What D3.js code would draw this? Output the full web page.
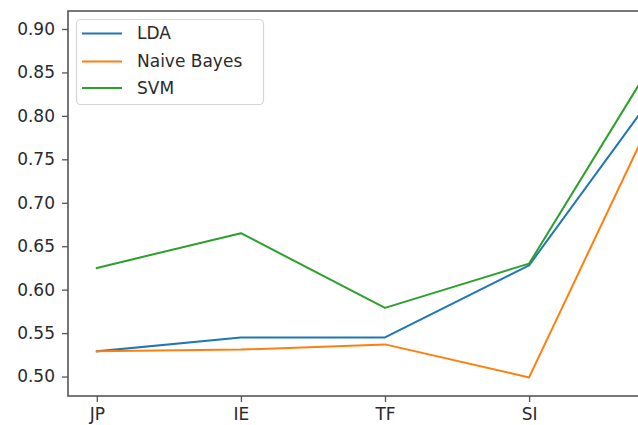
<!DOCTYPE html>
<html>
<head>
<meta charset="utf-8">
<script src="https://cdn.jsdelivr.net/npm/d3@7"></script>
<style>
  html, body { margin: 0; padding: 0; background: #fff; }
  svg { display: block; }
  text { font-family: "DejaVu Sans", sans-serif; }
</style>
</head>
<body>
<svg id="chart" width="638" height="425"></svg>
<script>
const categories = ["JP", "IE", "TF", "SI", "All"];
const ldaValues = [0.529, 0.545, 0.545, 0.628, 0.855];
const nbValues  = [0.529, 0.531, 0.537, 0.499, 0.849];
const svmValues = [0.625, 0.665, 0.579, 0.630, 0.900];
const seriesNames = ["LDA", "Naive Bayes", "SVM"];
const seriesColors = ["#1f77b4", "#ff7f0e", "#2ca02c"];
const yTickValues = [0.50, 0.55, 0.60, 0.65, 0.70, 0.75, 0.80, 0.85, 0.90];

const series = [ldaValues, nbValues, svmValues].map((v, i) => ({name: seriesNames[i], values: v, color: seriesColors[i]}));

const W = 638;
const svg = d3.select("#chart");
const plot = {left: 68, right: 702, top: 11, bottom: 396};

const x = d3.scaleLinear().domain([-0.2, categories.length - 1 + 0.2]).range([plot.left, plot.right]);
const y = d3.scaleLinear().domain([0.4776, 0.9207]).range([plot.bottom, plot.top]);

const axisColor = "#555";
const textColor = "#2a2a2a";

// lines
const line = d3.line().x((d, i) => x(i)).y(d => y(d));
svg.append("g").selectAll("path").data(series).join("path")
  .attr("d", d => line(d.values))
  .attr("fill", "none")
  .attr("stroke", d => d.color)
  .attr("stroke-width", 2)
  .attr("stroke-linejoin", "round")
  .attr("stroke-linecap", "square");

// spines
svg.append("rect")
  .attr("x", plot.left).attr("y", plot.top)
  .attr("width", plot.right - plot.left).attr("height", plot.bottom - plot.top)
  .attr("fill", "none").attr("stroke", axisColor).attr("stroke-width", 1.6);

// y axis
const yAxis = svg.append("g").attr("transform", `translate(${plot.left},0)`)
  .call(d3.axisLeft(y).tickValues(yTickValues).tickFormat(d3.format(".2f")).tickSize(6).tickPadding(7));
yAxis.select(".domain").remove();
yAxis.selectAll(".tick line").attr("stroke", axisColor).attr("stroke-width", 1.3);
yAxis.selectAll(".tick text").attr("fill", textColor).style("font-size", "17px").style("font-family", "DejaVu Sans");

// x axis (only the ticks that fall inside the visible picture)
const visibleIdx = d3.range(categories.length).filter(i => x(i) < W);
const xAxis = svg.append("g").attr("transform", `translate(0,${plot.bottom})`)
  .call(d3.axisBottom(x).tickValues(visibleIdx).tickFormat(i => categories[i]).tickSize(6).tickPadding(6));
xAxis.select(".domain").remove();
xAxis.selectAll(".tick line").attr("stroke", axisColor).attr("stroke-width", 1.3);
xAxis.selectAll(".tick text").attr("fill", textColor).style("font-size", "17px").style("font-family", "DejaVu Sans");

// legend
const legend = svg.append("g");
legend.append("rect")
  .attr("x", 76.5).attr("y", 19.5).attr("width", 187).attr("height", 85)
  .attr("rx", 4).attr("ry", 4)
  .attr("fill", "#fff").attr("fill-opacity", 0.8)
  .attr("stroke", "#d6d6d6").attr("stroke-width", 1.2);
const rowY = [33.5, 61.5, 88];
const items = legend.selectAll("g.item").data(series).join("g").attr("class", "item")
  .attr("transform", (d, i) => `translate(0,${rowY[i]})`);
items.append("line").attr("x1", 82).attr("x2", 122).attr("y1", 0).attr("y2", 0)
  .attr("stroke", d => d.color).attr("stroke-width", 2);
items.append("text").attr("x", 137).attr("y", 0).attr("dy", "0.35em")
  .attr("fill", textColor).style("font-size", "17px")
  .text(d => d.name);
</script>
</body>
</html>
